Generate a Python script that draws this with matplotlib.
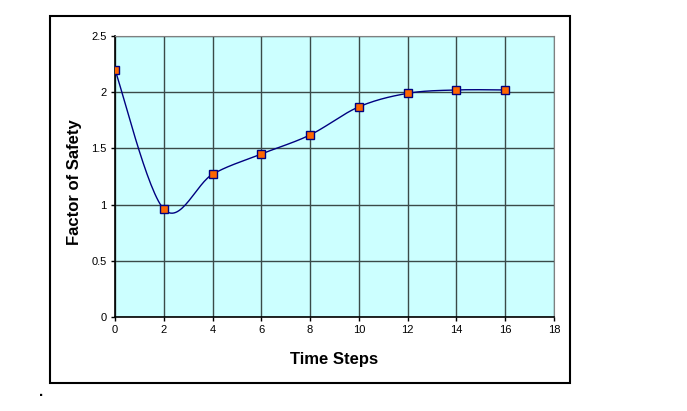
import numpy as np
import matplotlib
matplotlib.use("Agg")
import matplotlib.pyplot as plt
from matplotlib.patches import Rectangle

plt.rcParams['font.family'] = ['Liberation Sans', 'DejaVu Sans']

steps = [0, 2, 4, 6, 8, 10, 12, 14, 16]
fos = [2.2, 0.96, 1.27, 1.45, 1.62, 1.87, 1.99, 2.02, 2.02]


def smooth(x, y, n=30):
    # Excel-style smoothed line: cubic bezier with catmull-rom control points
    x = np.asarray(x, float)
    y = np.asarray(y, float)
    px = np.concatenate([[x[0]], x, [x[-1]]])
    py = np.concatenate([[y[0]], y, [y[-1]]])
    t = np.linspace(0, 1, n)
    xs, ys = [], []
    for i in range(1, len(px) - 2):
        p0 = np.array([px[i], py[i]])
        p3 = np.array([px[i + 1], py[i + 1]])
        p1 = p0 + (p3 - np.array([px[i - 1], py[i - 1]])) / 6
        p2 = p3 - (np.array([px[i + 2], py[i + 2]]) - p0) / 6
        b = (np.outer((1 - t) ** 3, p0) + np.outer(3 * (1 - t) ** 2 * t, p1)
             + np.outer(3 * (1 - t) * t ** 2, p2) + np.outer(t ** 3, p3))
        xs.extend(b[:, 0])
        ys.extend(b[:, 1])
    return xs, ys


fig = plt.figure(figsize=(6.87, 4.11), dpi=100)
fig.patches.append(Rectangle((50 / 687, 1 - 383 / 411), 520 / 687, 367 / 411,
                             transform=fig.transFigure, fill=False,
                             edgecolor='black', linewidth=1.5))
fig.text(39 / 687, 1 - 396 / 411, '.', fontsize=11, fontweight='bold')

ax = fig.add_axes([115 / 687, 1 - 317 / 411, 439 / 687, 281 / 411])
ax.set_facecolor('#CCFFFF')

sx, sy = smooth(steps, fos)
ax.plot(sx, sy, color='#000080', linewidth=1.0, zorder=3)
ax.plot(steps, fos, linestyle='none', marker='s', markersize=6,
        markerfacecolor='#FF6600', markeredgecolor='#000080',
        markeredgewidth=1.0, zorder=4)

ax.set_xlim(0, 18)
ax.set_ylim(0, 2.5)
ax.set_xticks(range(0, 19, 2))
ax.set_yticks([0, 0.5, 1, 1.5, 2, 2.5])
ax.set_yticklabels(['0', '0.5', '1', '1.5', '2', '2.5'])
ax.grid(True, color='#3a4a48', linewidth=1.0)
ax.set_axisbelow(True)
ax.tick_params(labelsize=8, length=3, width=1, color='black', pad=3)

for side in ['top', 'right']:
    ax.spines[side].set_color('#808080')
for side in ['left', 'bottom']:
    ax.spines[side].set_color('black')
    ax.spines[side].set_linewidth(1.2)

ax.set_xlabel('Time Steps', fontsize=12, fontweight='bold', labelpad=12)
ax.set_ylabel('Factor of Safety', fontsize=12, fontweight='bold')
ax.yaxis.set_label_coords(-0.075, 0.48)

fig.savefig('out.png', dpi=100)
